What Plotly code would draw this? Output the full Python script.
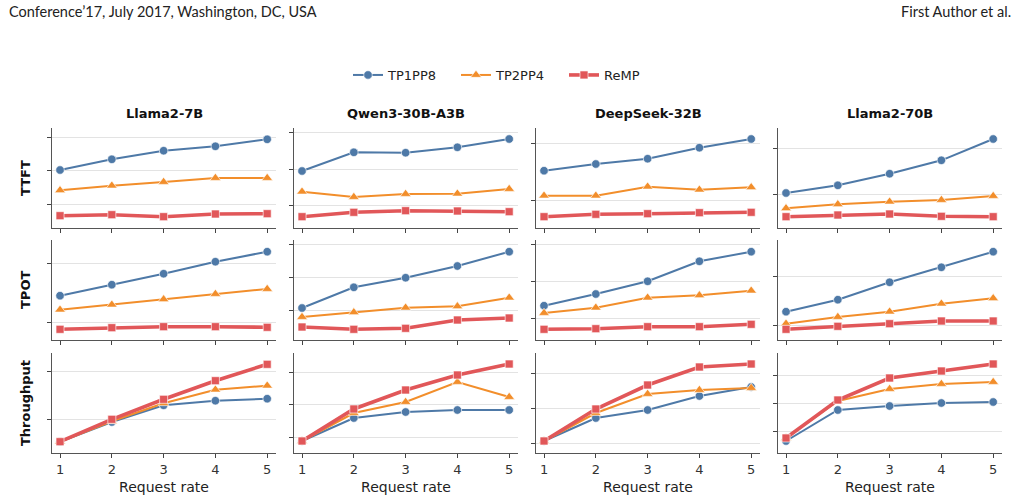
import plotly.graph_objects as go
from plotly.subplots import make_subplots

# ---------------- data (arbitrary units) ----------------
request_rate = [1, 2, 3, 4, 5]
models = ["Llama2-7B", "Qwen3-30B-A3B", "DeepSeek-32B", "Llama2-70B"]
metrics = ["TTFT", "TPOT", "Throughput"]
series_names = ["TP1PP8", "TP2PP4", "ReMP"]

# TTFT
ttft_tp1pp8 = [[58.0, 68.7, 77.3, 81.7, 88.7], [57.0, 75.7, 75.3, 80.7, 89.0],
               [57.3, 64.0, 69.3, 80.3, 89.0], [35.0, 42.7, 54.3, 67.7, 89.0]]
ttft_tp2pp4 = [[37.7, 42.3, 46.0, 50.0, 50.0], [36.3, 31.0, 34.0, 34.3, 39.0],
               [32.3, 32.3, 41.3, 38.3, 40.7], [19.7, 23.7, 26.3, 28.0, 32.0]]
ttft_remp = [[12.3, 13.3, 11.3, 14.0, 14.3], [11.3, 15.7, 17.3, 17.0, 16.3],
             [11.3, 13.7, 14.3, 15.3, 15.7], [11.3, 13.0, 14.0, 11.7, 11.3]]
# TPOT
tpot_tp1pp8 = [[44.3, 55.3, 66.3, 78.3, 88.3], [32.0, 52.7, 62.3, 74.0, 88.3],
               [34.3, 46.0, 58.7, 78.7, 88.3], [28.3, 40.3, 57.7, 72.7, 88.3]]
tpot_tp2pp4 = [[30.3, 35.3, 40.7, 46.0, 51.0], [23.0, 27.7, 32.3, 33.7, 42.3],
               [27.0, 32.3, 42.3, 44.7, 49.3], [16.3, 23.0, 28.3, 36.3, 41.7]]
tpot_remp = [[10.7, 12.3, 13.3, 13.3, 12.7], [13.0, 10.7, 11.7, 20.0, 22.0],
             [10.7, 11.3, 13.3, 13.3, 15.7], [10.7, 13.7, 16.3, 19.0, 19.0]]
# Throughput
thr_tp1pp8 = [[11.3, 31.0, 47.7, 52.3, 54.3], [12.0, 35.0, 41.0, 43.0, 43.0],
              [12.0, 35.0, 43.0, 57.0, 66.0], [12.0, 43.0, 47.0, 50.0, 51.0]]
thr_tp2pp4 = [[11.3, 31.7, 49.7, 63.3, 67.3], [12.0, 40.0, 51.0, 71.0, 56.0],
              [12.0, 40.0, 59.0, 63.0, 65.0], [15.0, 52.0, 64.0, 69.0, 71.0]]
thr_remp = [[11.3, 33.7, 53.7, 72.3, 88.7], [12.0, 44.0, 63.0, 78.0, 89.0],
            [12.0, 44.0, 68.0, 86.0, 89.0], [15.0, 53.0, 75.0, 82.0, 89.0]]

# y tick (gridline) positions per panel
ticks_ttft = [[24.0, 57.3, 90.7], [22.3, 58.3, 95.3], [27.3, 84.3], [33.3, 79.3]]
ticks_tpot = [[18.0, 76.7], [29.3, 62.7, 96.0], [21.7, 58.7, 95.7], [14.3, 63.7]]
ticks_thr = [[34.0, 81.7], [16.0, 49.0, 81.0], [10.0, 45.0, 80.0], [22.0, 50.0, 78.0]]

# ---------------- style ----------------
colors = ["#4E79A7", "#F28E2B", "#E15759"]
symbols = ["circle", "triangle-up", "square"]
widths = [2.0, 2.0, 3.6]
msizes = [8.5, 9.5, 8]
legend_ids = ["legend", "legend2", "legend3"]
legend_text_x = [388, 496, 604]

data = {
    "TTFT": [ttft_tp1pp8, ttft_tp2pp4, ttft_remp],
    "TPOT": [tpot_tp1pp8, tpot_tp2pp4, tpot_remp],
    "Throughput": [thr_tp1pp8, thr_tp2pp4, thr_remp],
}
ticks = {"TTFT": ticks_ttft, "TPOT": ticks_tpot, "Throughput": ticks_thr}

W, H = 1020, 502
col_px = [(52, 276), (294, 518), (536, 760), (778, 1002)]
row_px = [(128, 228), (240, 340), (353, 453)]

fig = make_subplots(rows=3, cols=4)

for r, metric in enumerate(metrics):
    for c in range(4):
        for s in range(3):
            fig.add_trace(
                go.Scatter(
                    x=request_rate, y=data[metric][s][c], name=series_names[s],
                    mode="lines+markers",
                    line=dict(color=colors[s], width=widths[s]),
                    marker=dict(symbol=symbols[s], size=msizes[s], color=colors[s],
                                line=dict(color="rgba(255,255,255,0.8)", width=0.8)),
                    showlegend=(r == 0 and c == 0),
                    legendgroup=series_names[s],
                    legend=legend_ids[s],
                ),
                row=r + 1, col=c + 1,
            )
        idx = r * 4 + c + 1
        xa = "xaxis" if idx == 1 else f"xaxis{idx}"
        ya = "yaxis" if idx == 1 else f"yaxis{idx}"
        x0, x1 = col_px[c]
        y0, y1 = row_px[r]
        fig.layout[xa].update(
            domain=[x0 / W, x1 / W], range=[0.845, 5.17],
            tickvals=request_rate, ticks="outside", ticklen=4, tickcolor="#444",
            showticklabels=(r == 2), showline=True, linecolor="#555", linewidth=1.2,
            showgrid=False, zeroline=False,
            tickfont=dict(family="DejaVu Sans", size=13, color="#333"),
            title=dict(text="Request rate" if r == 2 else "",
                       font=dict(family="DejaVu Sans", size=14, color="#222"), standoff=6),
        )
        fig.layout[ya].update(
            domain=[1 - y1 / H, 1 - y0 / H], range=[0, 100],
            tickvals=ticks[metric][c], ticks="outside", ticklen=4, tickcolor="#444",
            showticklabels=False, showline=True, linecolor="#555", linewidth=1.2,
            showgrid=True, gridcolor="#e3e3e3", gridwidth=1, zeroline=False,
        )

annotations = []
for c, m in enumerate(models):
    x0, x1 = col_px[c]
    annotations.append(dict(text=f"<b>{m}</b>", x=(x0 + x1) / 2 / W, y=1 - 113 / H,
                            xref="paper", yref="paper", showarrow=False,
                            xanchor="center", yanchor="middle",
                            font=dict(family="DejaVu Sans", size=13, color="#111")))
for r, m in enumerate(metrics):
    y0, y1 = row_px[r]
    annotations.append(dict(text=f"<b>{m}</b>", x=25 / W, y=1 - (y0 + y1) / 2 / H,
                            xref="paper", yref="paper", showarrow=False, textangle=-90,
                            xanchor="center", yanchor="middle",
                            font=dict(family="DejaVu Sans", size=13, color="#111")))
annotations.append(dict(text="Conference’17, July 2017, Washington, DC, USA", x=7 / W,
                        y=1 - 12 / H, xref="paper", yref="paper", xanchor="left",
                        yanchor="middle",
                        showarrow=False, font=dict(family="Lato", size=14.5, color="#222")))
annotations.append(dict(text="First Author et al.", x=1013 / W, y=1 - 12 / H,
                        xref="paper", yref="paper", xanchor="right", yanchor="middle",
                        showarrow=False, font=dict(family="Lato", size=14.5, color="#222")))

legend_style = dict(orientation="h", xanchor="left", y=1 - 75 / H, yanchor="middle",
                    font=dict(family="DejaVu Sans", size=13, color="#222"),
                    bgcolor="rgba(0,0,0,0)")

fig.update_layout(
    width=W, height=H, margin=dict(l=0, r=0, t=0, b=0),
    paper_bgcolor="white", plot_bgcolor="white",
    annotations=annotations,
    legend=dict(x=(legend_text_x[0] - 40) / W, **legend_style),
    legend2=dict(x=(legend_text_x[1] - 40) / W, **legend_style),
    legend3=dict(x=(legend_text_x[2] - 40) / W, **legend_style),
)

fig.write_html("out.html")
